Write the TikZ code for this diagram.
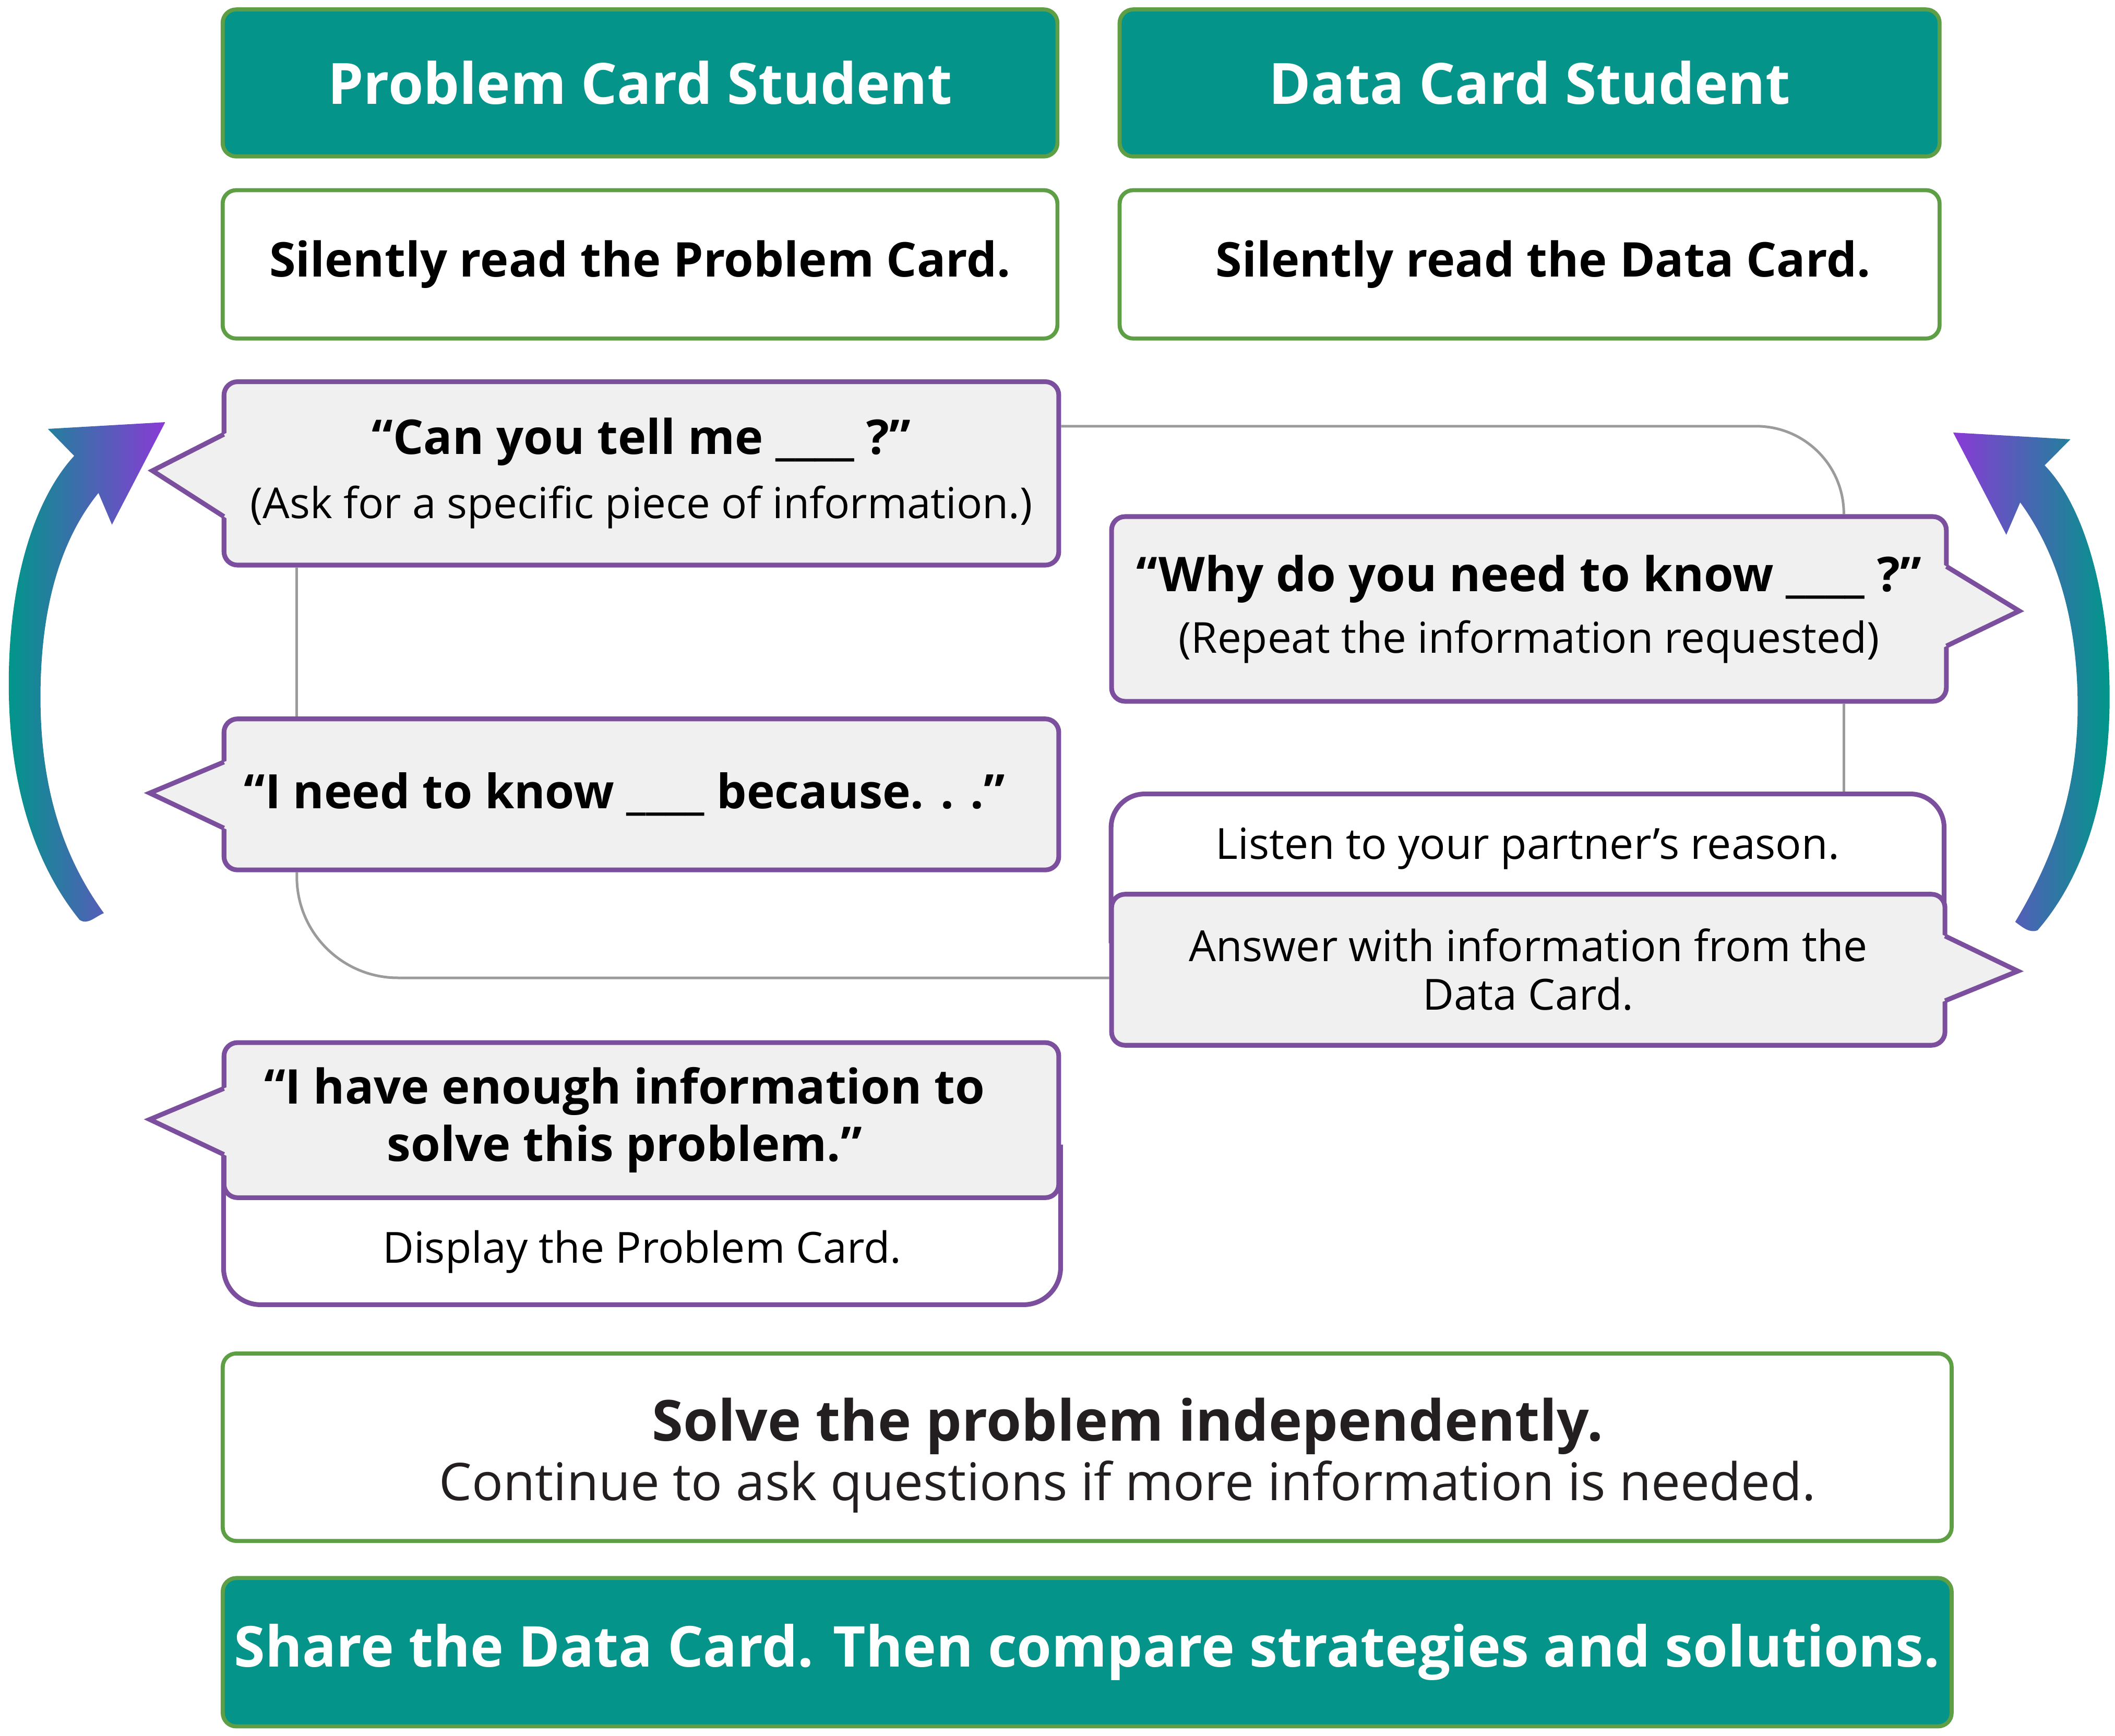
\documentclass[tikz,border=0pt]{standalone}
\usepackage{fontspec}
\setmainfont{Open Sans}
\usetikzlibrary{calc,backgrounds}

\definecolor{headteal}{HTML}{04948A}
\definecolor{boxgreen}{HTML}{5E9E45}
\definecolor{callpurple}{HTML}{7B4F9D}
\definecolor{callgray}{HTML}{F0F0F0}
\definecolor{linkgray}{HTML}{9B9B9B}
\definecolor{arrowteal}{HTML}{00968A}
\definecolor{arrowblue}{HTML}{4166A8}
\definecolor{arrowpurple}{HTML}{8A3AD6}
\definecolor{textdark}{HTML}{231F20}

\tikzset{
  headbox/.style={draw=boxgreen, fill=headteal, line width=1.7pt, rounded corners=0.2cm,
    text=white, inner sep=0pt, align=center, font=\bfseries\fontsize{24}{29}\selectfont},
  stepbox/.style={draw=boxgreen, fill=white, line width=1.7pt, rounded corners=0.2cm,
    inner sep=0pt, align=center, font=\bfseries\fontsize{20.2}{26}\selectfont},
  callbox/.style={draw=callpurple, fill=callgray, line width=2pt, rounded corners=0.2cm,
    inner sep=0pt, align=center},
  plainbox/.style={inner sep=0pt, align=center, font=\fontsize{18.1}{20.5}\selectfont},
  callline/.style={draw=callpurple, line width=2pt},
  link/.style={draw=linkgray, line width=1.1pt},
}

% speech pointer: base top, tip, base bottom
\newcommand{\ptr}[3]{%
  \fill[callgray] ($#1!-0.08!#2$) -- #2 -- ($#3!-0.08!#2$) -- cycle;
  \draw[callline] #1 -- #2 -- #3;}

\begin{document}
\begin{tikzpicture}[x=0.02cm,y=-0.02cm]
  \useasboundingbox (0,0) rectangle (1568,1287);

  % the two columns
  \node[headbox, minimum width=12.38cm, minimum height=2.18cm] (probhead) at (474.5,61.5) {Problem Card Student};
  \node[headbox, minimum width=12.16cm, minimum height=2.18cm] (datahead) at (1134,61.5) {Data Card Student};
  \node[stepbox, minimum width=12.38cm, minimum height=2.2cm] (probread) at (474.5,196) {Silently read the Problem Card.};
  \node[stepbox, minimum width=12.16cm, minimum height=2.2cm] (dataread) at (1134,196) {\hspace*{0.4cm}Silently read the Data Card.};

  % questions and answers
  \node[callbox, minimum width=12.38cm, minimum height=2.72cm, font=\fontsize{18}{27}\selectfont] (askq) at (475.5,351)
    {{\bfseries\fontsize{20.2}{27}\selectfont “Can you tell me \_\_\_\_ ?”}\\ (Ask for a specific piece of information.)};
  \ptr{(166,322)}{(113,349)}{(166,383)}
  \node[callbox, minimum width=12.38cm, minimum height=2.74cm, font=\fontsize{18}{26}\selectfont] (whyq) at (1133.5,451.5)
    {{\bfseries\fontsize{20.2}{26}\selectfont “Why do you need to know \_\_\_\_ ?”}\\ (Repeat the information requested)};
  \ptr{(1443,420)}{(1497,453)}{(1443,479)}
  \node[callbox, minimum width=12.38cm, minimum height=2.24cm, font=\bfseries\fontsize{20}{26}\selectfont] (needq) at (475.5,589)
    {\hspace*{-0.5cm}“I need to know \_\_\_\_ because. . .”};
  \ptr{(166,565)}{(111,588)}{(166,614)}
  \node[plainbox, minimum width=12.34cm, minimum height=1.6cm] (listen) at (1132.5,629) {Listen to your partner’s reason.};
  \node[callbox, minimum width=12.36cm, minimum height=2.24cm, font=\fontsize{18.1}{20.5}\selectfont] (answer) at (1133,719)
    {Answer with information from the\\ Data Card.};
  \ptr{(1442,694)}{(1496,720)}{(1442,742)}
  \node[plainbox, minimum width=12.4cm, minimum height=1.56cm] (display) at (476,928) {Display the Problem Card.};
  \node[callbox, minimum width=12.38cm, minimum height=2.3cm, font=\bfseries\fontsize{20.2}{24.3}\selectfont] (enough) at (475.5,830.5)
    {\hspace*{-0.5cm}“I have enough information to\\ \hspace*{-0.5cm}solve this problem.”};
  \ptr{(166,807)}{(111,830)}{(166,856)}

  % last steps
  \node[stepbox, minimum width=25.64cm, minimum height=2.78cm, font=\fontsize{21.9}{25.1}\selectfont, text=textdark] (solve) at (806,1073)
    {\rule{0pt}{25pt}\hspace*{1.2cm}{\bfseries\fontsize{23.9}{25.1}\selectfont Solve the problem independently.}\\ \hspace*{1.2cm}Continue to ask questions if more information is needed.};
  \node[headbox, minimum width=25.64cm, minimum height=2.2cm, font=\bfseries\fontsize{23.8}{29}\selectfont] (share) at (806,1225)
    {Share the Data Card. Then compare strategies and solutions.};

  \begin{scope}[on background layer]
    \draw[link, rounded corners=1.3cm] ([yshift=0.7cm]askq.east) -| ([xshift=4.67cm]whyq.north);
    \draw[link] ([xshift=-5.11cm]askq.south) -- ([xshift=-5.11cm]needq.north);
    \draw[link, rounded corners=1.5cm] ([xshift=-5.11cm]needq.south) |- ([yshift=-0.12cm]answer.west);
    \draw[link] ([xshift=4.67cm]whyq.south) -- ([xshift=4.69cm]listen.north);
    \draw[callline, fill=white, rounded corners=0.5cm] ([yshift=-0.6cm]listen.south west) -- (listen.north west)
      -- (listen.north east) -- ([yshift=-0.6cm]listen.south east);
    \draw[callline, fill=white, rounded corners=0.55cm] ([yshift=0.8cm]display.north west) -- (display.south west)
      -- (display.south east) -- ([yshift=0.8cm]display.north east);
  \end{scope}

  % turn-taking arrows
  \shade[left color=arrowteal, middle color=arrowblue, right color=arrowpurple]
    (59,682) .. controls (25,640) and (6,580) .. (6.5,504) .. controls (7,420) and (30,365) .. (55,338)
    -- (35.5,318) -- (122.5,313) -- (83,389) -- (73,365.5)
    .. controls (45,400) and (30,450) .. (30,517) .. controls (30,590) and (50,640) .. (77,677)
    .. controls (70,680) and (65,686) .. cycle;
  \shade[left color=arrowpurple, middle color=arrowblue, right color=arrowteal]
    (1510.6,689.7) .. controls (1545,650) and (1564,590) .. (1564,517) .. controls (1564,440) and (1545,375) .. (1515.8,345)
    -- (1535,325.7) -- (1448,320.7) -- (1487.4,396.5) -- (1497.7,372.5)
    .. controls (1525,410) and (1540.3,460) .. (1540.3,524) .. controls (1540.3,590) and (1520,640) .. (1494,683.5)
    .. controls (1500,688) and (1505,692) .. cycle;
\end{tikzpicture}
\end{document}
